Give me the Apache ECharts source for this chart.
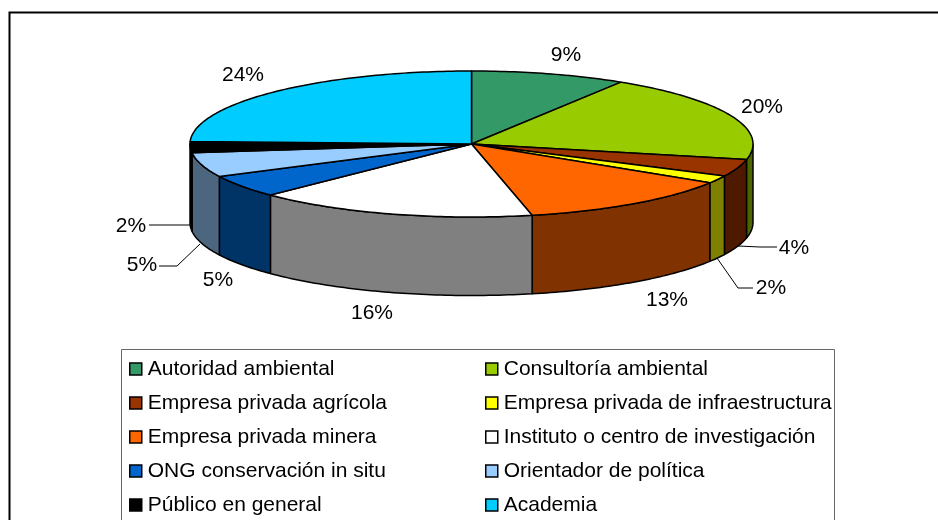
<!DOCTYPE html>
<html>
<head>
<meta charset="utf-8">
<style>
  html, body { margin: 0; padding: 0; background: #fff; }
  #chart { width: 938px; height: 520px; }
</style>
</head>
<body>
<div id="chart"></div>
<script src="https://cdn.jsdelivr.net/npm/echarts@6/dist/echarts.min.js"></script>
<script>
var categories = ['Autoridad ambiental', 'Consultoría ambiental', 'Empresa privada agrícola',
  'Empresa privada de infraestructura', 'Empresa privada minera', 'Instituto o centro de investigación',
  'ONG conservación in situ', 'Orientador de política', 'Público en general', 'Academia'];
var values = [8.9, 19.5, 3.8, 1.7, 12.6, 16.1, 5.0, 5.4, 2.45, 24.45];
var topColors = ['#339966', '#99CC00', '#993300', '#FFFF00', '#FF6600', '#FFFFFF', '#0066CC', '#99CCFF', '#000000', '#00CCFF'];
var sideColors = ['#1A4D33', '#4D6600', '#4D1A00', '#808000', '#803300', '#808080', '#003366', '#4D6680', '#000000', '#006680'];

// ellipse of the pie top and label places, in pixels
var cx = 471.5, cy = 144, rx = 281.5, ry = 73, depth = 78.5;
var labelPos = [[566, 55], [762, 107], [794, 248], [771, 288], [667, 300], [372, 313], [218, 280], [142, 265], [131, 226], [243, 75]];
var font = '"Liberation Sans", Arial, sans-serif';
var fontSize = 21;

var total = values.reduce(function (a, b) { return a + b; }, 0);

function pt(deg, dy) {
    var r = deg * Math.PI / 180;
    return [cx + rx * Math.sin(r), cy - ry * Math.cos(r) + (dy || 0)];
}

function arc(from, to, dy) {
    var pts = [];
    var n = Math.max(2, Math.ceil(Math.abs(to - from)));
    for (var i = 0; i <= n; i++) {
        pts.push(pt(from + (to - from) * i / n, dy));
    }
    return pts;
}

function sliceItem(i) {
    return function (params, api) {
        var before = values.slice(0, i).reduce(function (a, b) { return a + b; }, 0);
        var a0 = before / total * 360;
        var a1 = a0 + api.value(0) / total * 360;
        var children = [];
        // only the front half of the wall can be seen
        var s0 = Math.max(a0, 90), s1 = Math.min(a1, 270);
        if (s1 > s0) {
            children.push({
                type: 'polygon',
                shape: { points: arc(s0, s1, 0).concat(arc(s1, s0, depth)) },
                style: { fill: sideColors[i], stroke: '#000', lineWidth: 1.5, lineJoin: 'round' }
            });
        }
        children.push({
            type: 'polygon',
            shape: { points: [[cx, cy]].concat(arc(a0, a1, 0)) },
            style: { fill: topColors[i], stroke: '#000', lineWidth: 1.5, lineJoin: 'round' }
        });
        children.push({
            type: 'text',
            style: {
                x: labelPos[i][0], y: labelPos[i][1],
                text: Math.round(api.value(0)) + '%',
                fill: '#000', font: fontSize + 'px ' + font,
                align: 'center', verticalAlign: 'middle'
            }
        });
        return { type: 'group', children: children };
    };
}

function legendOf(names, left) {
    return {
        orient: 'vertical',
        left: left,
        top: 358,
        padding: 0,
        itemWidth: 12,
        itemHeight: 12,
        itemGap: 12,
        icon: 'rect',
        selectedMode: false,
        itemStyle: { borderColor: '#000', borderWidth: 1.5 },
        textStyle: { fontFamily: font, fontSize: fontSize, color: '#000', padding: [0, 0, 0, 1], lineHeight: 22 },
        data: names
    };
}

var leaders = [
    [[738, 246], [760, 247], [777, 247]],
    [[717, 258], [738, 288], [753, 288]],
    [[200, 244], [177, 266], [159, 266]],
    [[190, 225], [149, 225]]
];

var chart = echarts.init(document.getElementById('chart'));
chart.setOption({
    animation: false,
    backgroundColor: '#fff',
    legend: [
        legendOf(categories.filter(function (c, i) { return i % 2 === 0; }), 129),
        legendOf(categories.filter(function (c, i) { return i % 2 === 1; }), 485)
    ],
    graphic: [
        // chart frame, open at the right and the bottom
        { type: 'polyline', shape: { points: [[9.5, 530], [9.5, 12.5], [945, 12.5]] }, style: { fill: null, stroke: '#000', lineWidth: 2 } },
        { type: 'rect', shape: { x: 121.5, y: 349.5, width: 713, height: 190 }, style: { fill: null, stroke: '#666', lineWidth: 1 } }
    ].concat(leaders.map(function (p) {
        return { type: 'polyline', shape: { points: p }, style: { fill: null, stroke: '#000', lineWidth: 1 } };
    })),
    series: categories.map(function (name, i) {
        return {
            type: 'custom',
            name: name,
            coordinateSystem: 'none',
            itemStyle: { color: topColors[i] },
            renderItem: sliceItem(i),
            data: [values[i]]
        };
    })
});
</script>
</body>
</html>
